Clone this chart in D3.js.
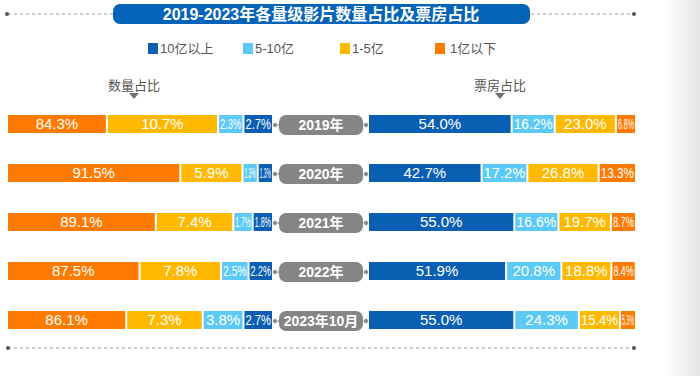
<!DOCTYPE html>
<html>
<head>
<meta charset="utf-8">
<script src="https://cdn.jsdelivr.net/npm/d3@7"></script>
<style>
  body { margin: 0; background: #fff; }
  svg { display: block; font-family: "Liberation Sans", Arial, "Noto Sans CJK SC", sans-serif; }
</style>
</head>
<body>
<svg id="chart" width="700" height="376"></svg>
<script>
var title = "2019-2023年各量级影片数量占比及票房占比";
var years = ["2019年", "2020年", "2021年", "2022年", "2023年10月"];
var categories = ["10亿以上", "5-10亿", "1-5亿", "1亿以下"];
var colors = ["#0b5fb2", "#5dcaf5", "#ffb900", "#ff7a00"];

// 数量占比 (%)
var countTop = [2.7, 1.3, 1.8, 2.2, 2.7];
var countMid = [2.3, 1.3, 1.7, 2.5, 3.8];
var countSmall = [10.7, 5.9, 7.4, 7.8, 7.3];
var countLow = [84.3, 91.5, 89.1, 87.5, 86.1];

// 票房占比 (%)
var boxTop = [54.0, 42.7, 55.0, 51.9, 55.0];
var boxMid = [16.2, 17.2, 16.6, 20.8, 24.3];
var boxSmall = [23.0, 26.8, 19.7, 18.8, 15.4];
var boxLow = [6.8, 13.3, 8.7, 8.4, 5.3];

var svg = d3.select("#chart");
var gap = 2, barH = 18;

var y = d3.scalePoint().domain(years).range([124, 320]);

// left side: small shares on a stretched scale, largest share is truncated to fill
var xL = d3.scaleLinear().domain([0, 1]).range([0, 10.2]);
var leftStart = 8, leftEnd = 272;
// right side: proportional
var xR = d3.scaleLinear().domain([0, 100]).range([369, 635]);

// shadow at the right edge
var defs = svg.append("defs");
var sh = defs.append("linearGradient").attr("id", "shade");
sh.append("stop").attr("offset", "0%").attr("stop-color", "#fff");
sh.append("stop").attr("offset", "100%").attr("stop-color", "#e6e6e6");
svg.append("rect").attr("x", 664).attr("y", 0).attr("width", 36).attr("height", 376).style("fill", "url(#shade)");

function dashLine(x1, x2, yy) {
  svg.append("line")
    .attr("x1", x1).attr("x2", x2).attr("y1", yy).attr("y2", yy)
    .attr("stroke", "#9a9a9a").attr("stroke-width", 1).attr("stroke-dasharray", "3,3");
}
function dot(x, yy) {
  svg.append("circle").attr("cx", x).attr("cy", yy).attr("r", 2).attr("fill", "#555");
}

// title
dashLine(8, 113, 14); dot(7, 14);
dashLine(531, 634, 14); dot(634, 14);
svg.append("rect")
  .attr("x", 113).attr("y", 4).attr("width", 417).attr("height", 20).attr("rx", 7)
  .attr("fill", "#0664b8");
svg.append("text")
  .attr("x", 321).attr("y", 20)
  .attr("text-anchor", "middle")
  .attr("fill", "#fff")
  .style("font-size", "16px").style("font-weight", "bold")
  .text(title);

// legend
var legX = [148, 243, 340, 435];
var leg = svg.append("g").selectAll("g").data(categories).enter().append("g")
  .attr("transform", function(d, i) { return "translate(" + legX[i] + ",43)"; });
leg.append("rect").attr("width", 10).attr("height", 11)
  .attr("fill", function(d, i) { return colors[i]; });
leg.append("text").attr("x", function(d, i) { return i == 3 ? 15 : 12; }).attr("y", 10)
  .attr("fill", "#555").style("font-size", "13px")
  .text(function(d) { return d; });

// side headers
function header(label, cx) {
  svg.append("text").attr("x", cx).attr("y", 90).attr("text-anchor", "middle")
    .attr("fill", "#555").style("font-size", "13px").text(label);
  svg.append("path")
    .attr("d", "M" + (cx - 5) + ",93 L" + (cx + 5) + ",93 L" + cx + ",99 Z")
    .attr("fill", "#6f6f6f");
}
header("数量占比", 134);
header("票房占比", 500);

// value label, squeezed horizontally when the segment is narrow
function segText(g, x, w, yc, v) {
  var t = g.append("text")
    .attr("text-anchor", "middle")
    .attr("fill", "#fff")
    .style("font-size", "15px")
    .text(d3.format(".1f")(v) + "%");
  var len = t.node().getComputedTextLength();
  var sx = len > w - 2 ? (w - 2) / len : 1;
  t.attr("transform", "translate(" + (x + w / 2) + "," + (yc + 5) + ") scale(" + sx + ",1)");
}

var rows = svg.append("g");
years.forEach(function(yr, i) {
  var yc = y(yr);
  var g = rows.append("g");

  // left: from the right end leftwards (10亿以上, 5-10亿, 1-5亿), 1亿以下 fills the rest
  var vals = [countTop[i], countMid[i], countSmall[i]];
  var x = leftEnd;
  vals.forEach(function(v, k) {
    var w = xL(v);
    g.append("rect").attr("x", x - w).attr("y", yc - barH / 2)
      .attr("width", w).attr("height", barH).attr("fill", colors[k]);
    segText(g, x - w, w, yc, v);
    x = x - w - gap;
  });
  g.append("rect").attr("x", leftStart).attr("y", yc - barH / 2)
    .attr("width", x - leftStart).attr("height", barH).attr("fill", colors[3]);
  segText(g, leftStart, x - leftStart, yc, countLow[i]);

  // right: proportional, 10亿以上 first
  var bvals = [boxTop[i], boxMid[i], boxSmall[i], boxLow[i]];
  var acc = 0;
  bvals.forEach(function(v, k) {
    var x0 = xR(acc), x1 = xR(acc + v);
    var w = x1 - x0 - (k < 3 ? gap : 0);
    g.append("rect").attr("x", x0).attr("y", yc - barH / 2)
      .attr("width", w).attr("height", barH).attr("fill", colors[k]);
    segText(g, x0, w, yc, v);
    acc += v;
  });

  // year tag
  g.append("line").attr("x1", 275).attr("x2", 366).attr("y1", yc + 1).attr("y2", yc + 1)
    .attr("stroke", "#858585").attr("stroke-width", 1.5);
  g.append("rect").attr("x", 279).attr("y", yc - 9).attr("width", 84).attr("height", 20).attr("rx", 7)
    .attr("fill", "#858585");
  g.append("circle").attr("cx", 275).attr("cy", yc + 1).attr("r", 2.5)
    .attr("fill", "#858585").attr("stroke", "#fff").attr("stroke-width", 0.8);
  g.append("circle").attr("cx", 366).attr("cy", yc + 1).attr("r", 2.5)
    .attr("fill", "#858585").attr("stroke", "#fff").attr("stroke-width", 0.8);
  g.append("text").attr("x", 321).attr("y", yc + 6).attr("text-anchor", "middle")
    .attr("fill", "#fff").style("font-size", "14px").style("font-weight", "bold")
    .text(yr);
});

// bottom rule
dashLine(8, 634, 348); dot(8, 348); dot(634, 348);
</script>
</body>
</html>
